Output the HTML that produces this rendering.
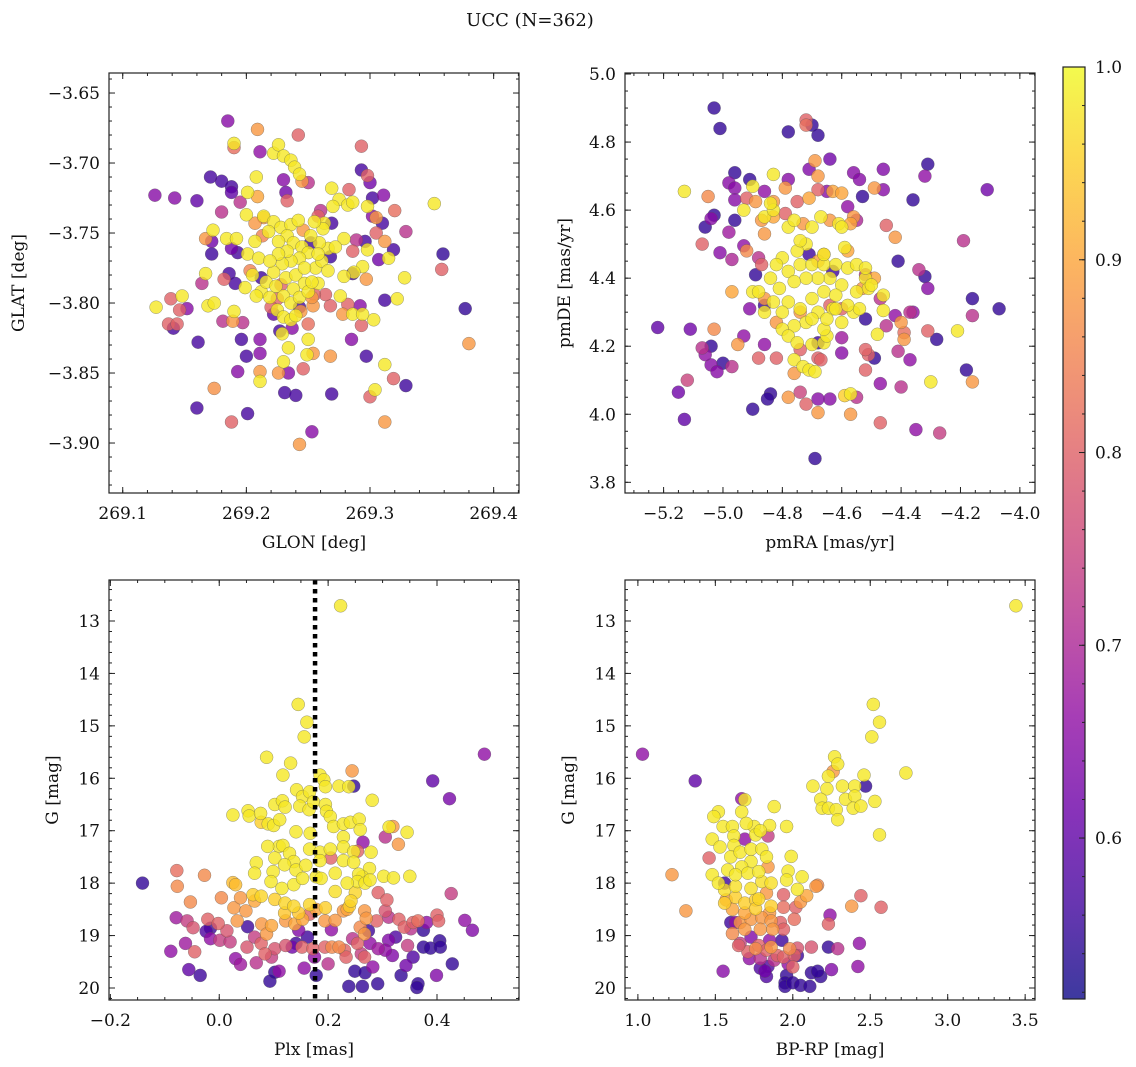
<!DOCTYPE html>
<html><head><meta charset="utf-8"><title>UCC (N=362)</title>
<style>
html,body{margin:0;padding:0;background:#fff;}
svg{display:block;font-family:"DejaVu Serif","Liberation Serif",serif;}
</style></head>
<body>
<svg id="fig" width="1136" height="1067" viewBox="0 0 1136 1067" xmlns="http://www.w3.org/2000/svg">
<rect x="0" y="0" width="1136" height="1067" fill="#fff"/>
<text x="530" y="26" font-size="18" text-anchor="middle" fill="#111">UCC (N=362)</text>
<g id="plots"></g>
</svg>
<script>
// ---- data: [x, y, membership probability] ----
const panel1Stars=[
[269.185,-3.670,.65],[269.209,-3.676,.88],[269.242,-3.680,.8],[269.190,-3.686,.98],[269.19,-3.689,.82],[269.211,-3.692,.66],[269.222,-3.693,.98],[269.226,-3.687,.98],[269.230,-3.695,.98],[269.236,-3.698,.98],[269.239,-3.703,.98],[269.293,-3.688,.8],
[269.171,-3.710,.57],[269.180,-3.713,.57],[269.188,-3.717,.57],[269.188,-3.721,.6],[269.208,-3.710,.98],[269.201,-3.721,.98],[269.209,-3.724,.9],[269.23,-3.712,.65],[269.243,-3.708,.98],[269.245,-3.713,.88],[269.25,-3.714,.72],[269.232,-3.721,.62],[269.233,-3.727,.8],
[269.293,-3.705,.57],[269.298,-3.709,.8],[269.30,-3.714,.62],[269.302,-3.725,.57],[269.311,-3.723,.65],[269.32,-3.734,.82],[269.329,-3.749,.72],[269.352,-3.729,.98],[269.359,-3.765,.55],[269.358,-3.776,.8],[269.377,-3.804,.55],[269.38,-3.829,.88],
[269.126,-3.723,.65],[269.142,-3.725,.65],[269.16,-3.727,.6],[269.18,-3.735,.72],[269.195,-3.728,.72],[269.2,-3.737,.98],[269.173,-3.748,.98],[269.167,-3.754,.88],[269.172,-3.756,.62],[269.172,-3.765,.56],[269.164,-3.786,.72],[269.167,-3.779,.98],[269.182,-3.783,.8],[269.184,-3.754,.98],[269.192,-3.754,.98],[269.188,-3.761,.62],[269.193,-3.764,.57],[269.186,-3.779,.57],[269.191,-3.786,.57],
[269.127,-3.803,.98],[269.139,-3.797,.8],[269.148,-3.795,.98],[269.152,-3.804,.65],[269.146,-3.805,.8],[269.137,-3.815,.8],[269.141,-3.818,.57],[269.144,-3.815,.8],[269.169,-3.802,.98],[269.174,-3.800,.98],[269.181,-3.813,.72],[269.189,-3.813,.88],[269.197,-3.814,.72],[269.19,-3.806,.98],
[269.161,-3.828,.57],[269.196,-3.826,.57],[269.2,-3.838,.57],[269.211,-3.826,.65],[269.211,-3.836,.65],[269.193,-3.849,.65],[269.211,-3.849,.88],[269.211,-3.856,.98],[269.174,-3.861,.87],[269.16,-3.875,.57],[269.201,-3.879,.57],[269.188,-3.885,.8],[269.226,-3.85,.88],[269.234,-3.85,.65],[269.231,-3.864,.57],[269.24,-3.866,.57],[269.243,-3.901,.88],[269.253,-3.892,.65],[269.246,-3.847,.8],[269.23,-3.842,.98],[269.234,-3.832,.98],[269.249,-3.837,.98],[269.254,-3.836,.88],[269.25,-3.826,.98],[269.25,-3.815,.82],[269.229,-3.822,.98],[269.227,-3.82,.57],[269.237,-3.818,.65],[269.243,-3.803,.57],[269.244,-3.806,.88],
[269.269,-3.865,.57],[269.268,-3.838,.88],[269.285,-3.826,.65],[269.297,-3.838,.57],[269.293,-3.816,.8],[269.30,-3.867,.8],[269.304,-3.862,.98],[269.312,-3.844,.98],[269.319,-3.854,.8],[269.329,-3.859,.56],[269.312,-3.885,.88],[269.303,-3.812,.98],[269.312,-3.798,.57],[269.322,-3.797,.98],[269.328,-3.782,.98],[269.315,-3.768,.98],[269.319,-3.762,.57],[269.312,-3.756,.88],[269.305,-3.75,.8],[269.307,-3.769,.62],[269.297,-3.783,.88],[269.298,-3.731,.98],[269.305,-3.739,.88],[269.31,-3.743,.57],[269.302,-3.738,.65],
[269.283,-3.719,.8],[269.269,-3.718,.98],[269.275,-3.726,.98],[269.282,-3.73,.98],[269.286,-3.728,.98],[269.27,-3.731,.98],[269.26,-3.734,.72],[269.263,-3.743,.98],[269.269,-3.743,.57],[269.289,-3.755,.72],[269.296,-3.756,.57],[269.298,-3.762,.98],[269.286,-3.763,.8],[269.294,-3.774,.98],[269.287,-3.778,.98],[269.286,-3.779,.57],[269.279,-3.754,.98],[269.279,-3.781,.98],[269.276,-3.795,.98],[269.278,-3.808,.88],[269.286,-3.808,.98],[269.292,-3.802,.65],[269.294,-3.808,.98],[269.282,-3.801,.8],[269.268,-3.802,.8],[269.264,-3.794,.8],[269.255,-3.794,.8],[269.254,-3.802,.88],[269.258,-3.786,.98],
[269.214,-3.739,.88],[269.207,-3.743,.88],[269.213,-3.752,.85],[269.225,-3.797,.8],[269.258,-3.738,.8],[269.203,-3.777,.85],[269.246,-3.748,.88],[269.228,-3.787,.8],[269.253,-3.796,.88],[269.220,-3.803,.8],[269.212,-3.782,.56],[269.252,-3.757,.56],[269.268,-3.767,.56],[269.222,-3.808,.6],
[269.214,-3.738,.98],[269.222,-3.742,.98],[269.228,-3.746,.98],[269.236,-3.744,.98],[269.242,-3.741,.98],[269.233,-3.752,.98],[269.226,-3.756,.98],[269.218,-3.749,.98],[269.238,-3.757,.98],[269.245,-3.760,.98],[269.250,-3.764,.98],[269.243,-3.768,.98],[269.236,-3.770,.98],[269.229,-3.772,.98],[269.232,-3.782,.98],[269.240,-3.780,.98],[269.247,-3.786,.98],[269.238,-3.790,.98],[269.230,-3.795,.98],[269.236,-3.800,.98],[269.243,-3.796,.98],[269.250,-3.792,.98],[269.256,-3.775,.98],[269.261,-3.770,.98],[269.266,-3.761,.98],[269.259,-3.757,.98],[269.262,-3.747,.98],[269.255,-3.742,.98],[269.252,-3.752,.98],[269.266,-3.777,.98],[269.272,-3.760,.98],[269.207,-3.756,.98],[269.201,-3.765,.98],[269.210,-3.768,.98],[269.205,-3.780,.98],[269.199,-3.789,.98],[269.212,-3.792,.98],[269.219,-3.796,.98],[269.208,-3.795,.98],[269.225,-3.805,.98],[269.230,-3.810,.98],[269.236,-3.812,.98],[269.240,-3.809,.98],[269.247,-3.775,.98],[269.233,-3.763,.98],[269.222,-3.778,.98],[269.216,-3.785,.98],[269.224,-3.788,.98],[269.226,-3.765,.98],[269.219,-3.770,.98],[269.258,-3.765,.98],[269.253,-3.785,.98]
];
const panel2Stars=[
[-5.03,4.90,.55],[-5.01,4.84,.55],[-4.78,4.83,.55],[-4.72,4.865,.8],[-4.72,4.85,.82],[-4.70,4.85,.55],[-4.68,4.82,.55],[-4.64,4.75,.62],[-4.69,4.745,.88],[-4.71,4.72,.64],[-4.68,4.70,.88],[-4.56,4.71,.65],[-4.54,4.69,.65],[-4.46,4.72,.64],[-4.49,4.665,.88],[-4.46,4.66,.65],[-4.31,4.735,.55],[-4.32,4.70,.66],[-4.11,4.66,.62],[-4.36,4.63,.55],[-4.53,4.64,.55],
[-5.13,4.655,.98],[-5.05,4.64,.86],[-4.96,4.71,.55],[-4.98,4.68,.65],[-4.96,4.665,.65],[-4.91,4.69,.55],[-4.9,4.67,.98],[-4.86,4.655,.66],[-4.83,4.705,.98],[-4.78,4.69,.65],[-4.79,4.665,.88],[-4.96,4.63,.65],[-4.92,4.635,.8],[-4.93,4.60,.98],[-5.03,4.585,.55],[-5.04,4.575,.65],[-5.06,4.55,.55],[-4.96,4.57,.55],[-4.98,4.535,.68],[-5.07,4.50,.8],[-5.01,4.475,.65],[-4.97,4.455,.7],[-4.93,4.495,.66],[-4.92,4.48,.86],[-4.88,4.46,.72],[-4.89,4.41,.55],
[-4.89,4.625,.88],[-4.83,4.625,.88],[-4.75,4.625,.8],[-4.71,4.635,.9],[-4.68,4.66,.8],[-4.63,4.655,.9],[-4.6,4.65,.9],[-4.65,4.655,.65],[-4.58,4.61,.66],[-4.56,4.58,.88],[-4.55,4.57,.7],[-4.45,4.555,.8],[-4.42,4.52,.88],[-4.19,4.51,.72],[-4.41,4.45,.55],[-4.34,4.425,.72],[-4.32,4.405,.55],[-4.31,4.37,.65],[-4.16,4.34,.55],[-4.07,4.31,.55],[-4.16,4.29,.72],[-4.21,4.245,.98],[-4.28,4.22,.55],[-4.31,4.245,.8],
[-4.36,4.30,.66],[-4.37,4.30,.72],[-4.42,4.29,.66],[-4.40,4.27,.88],[-4.39,4.24,.82],[-4.39,4.22,.88],[-4.41,4.185,.72],[-4.37,4.16,.66],[-4.49,4.165,.55],[-4.51,4.175,.8],[-4.52,4.19,.8],[-4.45,4.26,.72],[-4.48,4.235,.98],[-4.46,4.305,.98],[-4.52,4.28,.55],[-4.52,4.13,.8],[-4.47,4.09,.66],[-4.40,4.08,.72],[-4.30,4.095,.98],[-4.16,4.095,.88],[-4.18,4.13,.55],[-4.47,3.975,.8],[-4.35,3.955,.66],[-4.27,3.945,.74],
[-4.69,3.87,.55],[-4.68,4.005,.88],[-4.57,4.00,.88],[-4.55,4.05,.72],[-4.59,4.055,.95],[-4.57,4.06,.98],[-4.64,4.045,.65],[-4.68,4.045,.65],[-4.72,4.03,.8],[-4.74,4.065,.75],[-4.78,4.05,.88],[-4.84,4.06,.55],[-4.85,4.045,.55],[-4.90,4.015,.55],[-5.13,3.985,.6],[-5.15,4.065,.62],[-5.12,4.10,.75],[-5.22,4.255,.6],[-5.11,4.25,.62],[-5.03,4.25,.86],[-5.07,4.195,.72],[-5.04,4.20,.55],[-5.06,4.175,.66],[-5.0,4.15,.55],[-4.97,4.14,.72],[-5.04,4.145,.65],[-5.02,4.125,.65],
[-4.95,4.205,.88],[-4.93,4.23,.66],[-4.86,4.205,.66],[-4.88,4.165,.8],[-4.82,4.165,.8],[-4.76,4.12,.88],[-4.76,4.16,.98],[-4.73,4.14,.98],[-4.71,4.13,.98],[-4.69,4.125,.98],[-4.68,4.165,.8],[-4.74,4.19,.8],[-4.70,4.205,.98],[-4.66,4.21,.98],[-4.65,4.23,.98],[-4.6,4.225,.68],[-4.6,4.18,.65],
[-4.87,4.57,.88],[-4.83,4.58,.9],[-4.86,4.53,.88],[-4.79,4.59,.8],[-4.73,4.56,.88],[-4.66,4.47,.9],[-4.64,4.57,.88],[-4.57,4.56,.9],[-4.58,4.48,.9],[-4.53,4.37,.88],[-4.49,4.40,.9],[-4.60,4.31,.8],[-4.64,4.32,.8],[-4.68,4.45,.9],[-4.74,4.30,.88],[-4.82,4.27,.88],[-4.86,4.34,.88],[-4.87,4.44,.8],[-4.97,4.36,.9],[-4.91,4.31,.65],[-4.86,4.32,.56],[-4.68,4.21,.56],[-4.63,4.42,.56],[-4.71,4.47,.56],[-4.47,4.34,.72],[-4.52,4.41,.72],[-4.67,4.16,.8],
[-4.78,4.55,.98],[-4.76,4.57,.98],[-4.70,4.55,.98],[-4.67,4.58,.98],[-4.72,4.50,.98],[-4.75,4.48,.98],[-4.80,4.46,.98],[-4.82,4.44,.98],[-4.84,4.40,.98],[-4.81,4.37,.98],[-4.78,4.42,.98],[-4.74,4.44,.98],[-4.70,4.44,.98],[-4.66,4.44,.98],[-4.62,4.44,.98],[-4.58,4.43,.98],[-4.55,4.44,.98],[-4.52,4.40,.98],[-4.51,4.37,.98],[-4.46,4.35,.98],[-4.55,4.36,.98],[-4.60,4.38,.98],[-4.64,4.40,.98],[-4.68,4.40,.98],[-4.72,4.40,.98],[-4.76,4.39,.98],[-4.78,4.33,.98],[-4.74,4.31,.98],[-4.70,4.34,.98],[-4.66,4.36,.98],[-4.62,4.35,.98],[-4.63,4.31,.98],[-4.68,4.30,.98],[-4.72,4.27,.98],[-4.76,4.26,.98],[-4.80,4.30,.98],[-4.83,4.33,.98],[-4.86,4.30,.98],[-4.80,4.25,.98],[-4.78,4.23,.98],[-4.75,4.21,.98],[-4.66,4.25,.98],[-4.65,4.28,.98],[-4.60,4.27,.98],[-4.56,4.30,.98],[-4.54,4.31,.98],[-4.50,4.38,.98],[-4.52,4.43,.98],[-4.61,4.56,.98],[-4.60,4.55,.98],[-4.59,4.49,.98],[-4.70,4.28,.98],[-4.90,4.36,.98],[-4.88,4.36,.98],[-4.74,4.51,.98],[-4.62,4.31,.98],[-4.58,4.32,.98],[-4.66,4.47,.98],[-4.86,4.58,.98],[-4.83,4.60,.98],[-4.84,4.62,.98]
];
const panel3Stars=[
[.223,12.71,.98],[.145,14.59,.98],[.161,14.93,.98],[.156,15.21,.98],[.487,15.54,.66],[.087,15.6,.98],[.131,15.71,.98],[.117,15.94,.98],[.244,15.86,.88],[.247,16.15,.55],[.392,16.05,.6],[.423,16.39,.63],
[.185,15.94,.98],[.192,16.03,.98],[.195,16.16,.98],[.220,16.15,.98],[.238,16.16,.98],[.281,16.42,.98],[.025,16.70,.98],[.053,16.62,.98],[.055,16.72,.98],[.076,16.67,.98],[.077,16.84,.95],[.090,16.87,.98],[.1,16.9,.98],
[.102,16.5,.98],[.116,16.43,.98],[.121,16.55,.98],[.142,16.22,.98],[.153,16.35,.98],[.148,16.53,.98],[.165,16.6,.98],[.166,16.26,.98],[.173,16.45,.98],[.195,16.5,.98],[.197,16.63,.98],[.204,16.73,.98],[.111,16.79,.98],[.141,17.02,.98],[.167,17.05,.98],
[.21,16.92,.98],[.228,16.87,.98],[.241,16.84,.98],[.257,16.78,.98],[.259,16.98,.98],[.228,17.12,.98],[.305,17.12,.72],[.312,16.93,.98],[.319,16.92,.88],[.345,17.03,.98],[.329,17.26,.88],[.264,17.22,.66],[.254,17.39,.8],
[.110,17.3,.98],[.117,17.28,.98],[.089,17.3,.98],[.129,17.43,.98],[.137,17.59,.98],[.068,17.61,.98],[.065,17.81,.98],[.102,17.52,.98],[.099,17.78,.98],[.120,17.65,.98],[.141,17.75,.98],[.159,17.66,.98],
[.166,17.35,.98],[.185,17.41,.98],[.185,17.57,.98],[.204,17.35,.98],[.205,17.52,.8],[.213,17.81,.98],[.228,17.57,.98],[.228,17.31,.98],[.247,17.4,.98],[.247,17.6,.98],[.279,17.41,.98],[.276,17.72,.98],[.263,17.88,.98],[.256,17.83,.98],
[.302,17.87,.98],[.320,17.9,.98],[.350,17.87,.98],[.254,17.97,.98],[.268,18.0,.98],[.277,17.94,.98],[.235,18.0,.98],[.25,18.18,.96],[.095,17.97,.98],[.115,18.1,.98],[.137,18.03,.98],[.153,17.91,.98],[.178,17.88,.98],[.187,17.91,.98],[.213,18.16,.97],
[.062,18.22,.95],[.077,18.25,.96],[.102,18.31,.95],[.121,18.38,.96],[.120,18.57,.94],[.137,18.44,.96],[.146,18.57,.94],[.166,18.41,.96],[.195,18.47,.95],[.239,18.44,.95],[.242,18.34,.96],
[-.078,17.76,.82],[-.077,18.06,.86],[-.027,17.85,.86],[-.053,18.36,.86],[-.141,18.0,.55],[.025,17.99,.93],[.03,18.03,.93],[.004,18.28,.86],
[.027,18.47,.88],[.039,18.28,.88],[.049,18.53,.88],[.033,18.72,.88],[.065,18.34,.9],[.078,18.78,.88],[.096,18.81,.9],[.087,18.97,.88],[.122,18.72,.88],[.139,18.78,.9],[.153,18.69,.9],
[.166,18.59,.8],[.178,18.5,.9],[.194,18.72,.88],[.213,18.71,.88],[.228,18.53,.88],[.235,18.5,.9],[.267,18.53,.88],[.27,18.67,.88],[.259,18.84,.86],[.267,18.97,.88],
[.292,18.18,.8],[.308,18.32,.8],[.305,18.53,.78],[.311,18.65,.72],[.426,18.2,.74],[.289,18.72,.8],[.33,18.69,.8],[.34,18.84,.8],[.356,18.75,.8],[.365,18.72,.82],[.381,18.75,.66],[.4,18.61,.8],[.403,18.72,.8],[.451,18.71,.66],[.465,18.9,.64],
[-.079,18.66,.68],[-.059,18.72,.74],[-.048,18.85,.78],[-.021,18.69,.8],[-.002,18.77,.8],[.014,18.91,.78],[-.024,18.92,.58],[-.016,18.86,.56],[-.016,19.06,.66],
[-.089,19.3,.66],[-.062,19.15,.68],[-.045,19.31,.8],[-.056,19.65,.6],[-.035,19.76,.56],[.001,19.09,.74],[.02,19.12,.74],[.03,19.44,.66],[.039,19.55,.68],[.051,19.22,.78],
[.052,18.83,.56],[.068,19.52,.72],[.065,19.03,.74],[.077,19.15,.8],[.084,19.35,.8],[.096,19.41,.74],[.102,19.25,.78],[.093,19.87,.55],[.102,19.7,.55],[.11,19.68,.66],
[.122,19.19,.78],[.141,19.15,.56],[.134,19.22,.62],[.146,18.9,.64],[.156,19.62,.66],[.152,19.22,.8],[.162,19.03,.56],[.172,19.25,.8],[.175,19.41,.66],[.178,19.76,.55],
[.194,19.22,.8],[.2,19.54,.72],[.206,18.89,.66],[.207,19.22,.86],[.22,19.22,.86],[.23,19.28,.8],[.233,19.41,.8],[.245,19.06,.72],[.254,19.15,.8],[.261,19.35,.74],[.267,19.41,.8],[.277,19.15,.66],[.274,18.91,.56],
[.238,19.97,.55],[.263,19.97,.55],[.291,19.92,.55],[.249,19.68,.55],[.268,19.71,.55],[.282,19.6,.66],[.292,19.25,.68],[.305,19.28,.66],[.311,19.09,.64],[.318,19.38,.64],[.324,19.03,.58],
[.334,19.76,.55],[.343,19.57,.62],[.356,19.41,.58],[.346,19.19,.74],[.352,18.87,.72],[.365,19.92,.55],[.363,19.99,.55],[.375,19.22,.55],[.375,18.9,.55],[.388,19.24,.55],[.399,19.76,.64],[.405,19.1,.55],[.406,19.22,.55],[.428,19.54,.55]
];
const panel4Stars=[
[3.44,12.71,.98],[2.52,14.59,.98],[2.56,14.93,.98],[2.51,15.21,.98],[1.03,15.54,.66],[1.37,16.05,.6],[2.27,15.59,.98],[2.29,15.73,.98],[2.23,15.96,.98],[2.26,15.87,.88],[2.73,15.9,.98],[2.46,15.94,.98],[2.47,16.15,.55],
[2.13,16.15,.98],[2.22,16.2,.98],[2.18,16.4,.98],[2.19,16.57,.98],[2.23,16.57,.98],[2.32,16.15,.98],[2.34,16.4,.98],[2.28,16.6,.98],[2.29,16.79,.98],[2.40,16.15,.98],[2.40,16.34,.98],[2.39,16.57,.98],[2.44,16.53,.98],[2.53,16.44,.98],[2.56,17.08,.98],
[1.67,16.39,.66],[1.69,16.41,.98],[1.67,16.64,.98],[1.52,16.64,.98],[1.49,16.73,.98],[1.88,16.54,.98],[1.96,16.92,.98],[1.85,16.9,.98],[1.84,17.1,.74],[1.69,17.16,.66],
[1.55,16.92,.98],[1.61,16.92,.98],[1.62,17.1,.98],[1.75,16.92,.98],[1.76,17.08,.98],[1.7,16.86,.98],[1.79,17.0,.98],
[1.48,17.16,.98],[1.53,17.31,.98],[1.62,17.28,.98],[1.6,17.5,.98],[1.66,17.41,.98],[1.73,17.35,.98],[1.8,17.35,.98],[1.83,17.5,.98],[1.73,17.59,.98],[1.67,17.69,.98],[1.58,17.75,.98],[1.63,17.84,.98],[1.71,17.81,.98],[1.78,17.78,.98],[1.84,17.69,.88],
[1.99,17.49,.98],[1.97,17.77,.98],[1.96,17.94,.98],[2.06,17.88,.98],[2.03,18.12,.98],[2.09,18.24,.9],[1.46,17.52,.8],[1.22,17.84,.88],[1.31,18.53,.88],
[1.48,17.84,.98],[1.52,18.0,.98],[1.56,18.0,.56],[1.56,18.13,.97],[1.63,18.06,.97],[1.73,18.1,.97],[1.8,17.97,.97],[1.86,18.0,.97],[1.83,18.19,.88],
[1.57,18.32,.88],[1.63,18.27,.95],[1.69,18.38,.95],[1.76,18.32,.95],[1.78,18.3,.96],[1.56,18.38,.95],[1.61,18.5,.9],[1.69,18.57,.9],[1.76,18.49,.95],[1.86,18.44,.95],[1.85,18.57,.88],
[1.94,18.22,.8],[1.94,18.46,.82],[2.02,18.46,.8],[2.01,18.69,.82],[2.05,18.36,.88],[2.15,18.06,.88],[2.16,18.04,.86],
[2.24,18.61,.66],[2.23,18.78,.8],[2.38,18.44,.88],[2.44,18.24,.8],[2.57,18.46,.8],
[1.6,18.75,.56],[1.63,18.75,.66],[1.66,18.75,.88],[1.73,18.69,.88],[1.80,18.66,.88],[1.86,18.72,.88],[1.87,18.88,.88],[1.79,18.88,.88],[1.69,18.88,.88],[1.61,18.96,.86],
[1.66,19.15,.74],[1.73,19.03,.64],[1.78,19.19,.8],[1.85,19.09,.66],[1.93,19.09,.56],[1.98,19.25,.86],[1.71,19.31,.8],[1.76,19.25,.86],[1.83,19.28,.8],[1.86,19.22,.88],[1.9,19.38,.8],[1.94,19.41,.8],[2.01,19.38,.8],[2.03,19.24,.78],[2.12,19.22,.78],
[1.65,19.19,.8],[1.72,19.44,.66],[1.79,19.44,.72],[1.88,19.47,.72],[1.97,19.54,.66],[2.0,19.6,.8],[2.03,19.38,.56],
[1.55,19.68,.65],[1.79,19.62,.58],[1.82,19.68,.62],[1.83,19.78,.58],[1.84,19.59,.58],[1.96,19.76,.55],[1.95,19.9,.55],[1.95,19.97,.55],[2.0,19.9,.55],[2.05,19.95,.55],[2.11,19.97,.55],[2.12,19.71,.55],[2.18,19.78,.55],[2.16,19.68,.55],
[2.23,19.22,.55],[2.29,19.25,.72],[2.25,19.65,.64],[2.43,19.15,.66],[2.42,19.59,.66],[1.92,18.75,.8],[1.94,18.88,.8]
];
// ---- ticks ----
const p1XTicks=[269.1,269.2,269.3,269.4];
const p1XLabels=["269.1","269.2","269.3","269.4"];
const p1YTicks=[-3.65,-3.70,-3.75,-3.80,-3.85,-3.90];
const p1YLabels=["−3.65","−3.70","−3.75","−3.80","−3.85","−3.90"];
const p2XTicks=[-5.2,-5.0,-4.8,-4.6,-4.4,-4.2,-4.0];
const p2XLabels=["−5.2","−5.0","−4.8","−4.6","−4.4","−4.2","−4.0"];
const p2YTicks=[3.8,4.0,4.2,4.4,4.6,4.8,5.0];
const p2YLabels=["3.8","4.0","4.2","4.4","4.6","4.8","5.0"];
const p3XTicks=[-0.2,0.0,0.2,0.4];
const p3XLabels=["−0.2","0.0","0.2","0.4"];
const magTicks=[13,14,15,16,17,18,19,20];
const magLabels=["13","14","15","16","17","18","19","20"];
const p4XTicks=[1.0,1.5,2.0,2.5,3.0,3.5];
const p4XLabels=["1.0","1.5","2.0","2.5","3.0","3.5"];
const cbTicks=[0.6,0.7,0.8,0.9,1.0];
const cbLabels=["0.6","0.7","0.8","0.9","1.0"];
const plxLine=[0.176];
const probRange=[0.5165,1.0];

const NS="http://www.w3.org/2000/svg";
const root=document.getElementById('plots');
const FS=17;
function mk(tag,attrs,parent){const e=document.createElementNS(NS,tag);for(const k in attrs)e.setAttribute(k,attrs[k]);(parent||root).appendChild(e);return e;}
const plasma=[[13,8,135],[65,4,157],[106,0,168],[143,13,164],[177,42,144],[204,71,120],[225,100,98],[242,132,75],[252,166,54],[252,206,37],[240,249,33]];
function cmap(p){let t=(p-probRange[0])/(probRange[1]-probRange[0]);t=Math.max(0,Math.min(1,t))*10;const i=Math.min(9,Math.floor(t)),f=t-i;const a=plasma[i],b=plasma[i+1];return 'rgb('+a.map((v,k)=>Math.round(v+(b[k]-v)*f)).join(',')+')';}

function panel(cfg){
  const g=mk('g',{});
  
  
  const sx=v=>cfg.x0+(v-cfg.xd[0])/(cfg.xd[1]-cfg.xd[0])*cfg.w;
  const sy=v=>cfg.y0+(v-cfg.yd[0])/(cfg.yd[1]-cfg.yd[0])*cfg.h;
  const pts=mk('g',{},g);
  
  
  const sorted=cfg.data.slice().sort((a,b)=>a[2]-b[2]);
  sorted.forEach(d=>{
    const c=mk('circle',{cx:sx(d[0]).toFixed(1),cy:sy(d[1]).toFixed(1),r:6.5,fill:cmap(d[2]),'fill-opacity':0.8,stroke:'#555','stroke-opacity':0.6,'stroke-width':0.5},pts);
    
    
  });
  if(cfg.vline){cfg.vline.forEach(v=>{const l=mk('line',{x1:sx(v),x2:sx(v),y1:cfg.y0,y2:cfg.y0+cfg.h,stroke:'#000','stroke-width':4.5,'stroke-dasharray':'4.5 4.5'},g);
    
    });}
  const fr=mk('rect',{x:cfg.x0,y:cfg.y0,width:cfg.w,height:cfg.h,fill:'none',stroke:'#222','stroke-width':1.2},g);
  
  
  const tk=mk('g',{stroke:'#222','stroke-width':1},g);
  
  
  const lo=Math.min(...cfg.xd),hi=Math.max(...cfg.xd);
  for(let k=Math.ceil(lo/cfg.xm-1e-6);k*cfg.xm<=hi+1e-9;k++){const x=sx(k*cfg.xm);mk('line',{x1:x,x2:x,y1:cfg.y0+cfg.h,y2:cfg.y0+cfg.h-3},tk);mk('line',{x1:x,x2:x,y1:cfg.y0,y2:cfg.y0+3},tk);}
  const ylo=Math.min(...cfg.yd),yhi=Math.max(...cfg.yd);
  for(let k=Math.ceil(ylo/cfg.ym-1e-6);k*cfg.ym<=yhi+1e-9;k++){const y=sy(k*cfg.ym);mk('line',{x1:cfg.x0,x2:cfg.x0+3,y1:y,y2:y},tk);mk('line',{x1:cfg.x0+cfg.w,x2:cfg.x0+cfg.w-3,y1:y,y2:y},tk);}
  cfg.xt.forEach((v,i)=>{const x=sx(v);mk('line',{x1:x,x2:x,y1:cfg.y0+cfg.h,y2:cfg.y0+cfg.h-6},tk);mk('line',{x1:x,x2:x,y1:cfg.y0,y2:cfg.y0+6},tk);
    const t=mk('text',{x:x,y:cfg.y0+cfg.h+26,'font-size':FS,'text-anchor':'middle',fill:'#111'},g);t.textContent=cfg.xl[i];
    
    });
  cfg.yt.forEach((v,i)=>{const y=sy(v);mk('line',{x1:cfg.x0,x2:cfg.x0+6,y1:y,y2:y},tk);mk('line',{x1:cfg.x0+cfg.w,x2:cfg.x0+cfg.w-6,y1:y,y2:y},tk);
    const t=mk('text',{x:cfg.x0-9,y:y+6,'font-size':FS,'text-anchor':'end',fill:'#111'},g);t.textContent=cfg.yl[i];
    
    });
  const xt=mk('text',{x:cfg.x0+cfg.w/2,y:cfg.y0+cfg.h+55,'font-size':FS,'text-anchor':'middle',fill:'#111'},g);xt.textContent=cfg.xlabel;
  
  
  const yx=cfg.ylx, yy=cfg.y0+cfg.h/2;
  const yt=mk('text',{x:yx,y:yy,'font-size':FS,'text-anchor':'middle',fill:'#111',transform:'rotate(-90 '+yx+' '+yy+')'},g);yt.textContent=cfg.ylabel;
  
  
}
panel({name:'glon-glat-panel',data:panel1Stars,x0:109,y0:73,w:410,h:420,xd:[269.0889,269.4205],yd:[-3.6357,-3.9357],xt:p1XTicks,xl:p1XLabels,yt:p1YTicks,yl:p1YLabels,xm:0.02,ym:0.01,xlabel:'GLON [deg]',ylabel:'GLAT [deg]',ylx:24});
panel({name:'pm-panel',data:panel2Stars,x0:625,y0:73,w:410,h:420,xd:[-5.330,-3.949],yd:[5.003,3.7686],xt:p2XTicks,xl:p2XLabels,yt:p2YTicks,yl:p2YLabels,xm:0.05,ym:0.05,xlabel:'pmRA [mas/yr]',ylabel:'pmDE [mas/yr]',ylx:570});
panel({name:'plx-g-panel',data:panel3Stars,x0:109,y0:580,w:410,h:420,xd:[-0.2025,0.5506],yd:[12.218,20.229],xt:p3XTicks,xl:p3XLabels,yt:magTicks,yl:magLabels,xm:0.05,ym:0.2,xlabel:'Plx [mas]',ylabel:'G [mag]',ylx:58,vline:plxLine});
panel({name:'cmd-panel',data:panel4Stars,x0:625,y0:580,w:410,h:420,xd:[0.9168,3.5636],yd:[12.218,20.229],xt:p4XTicks,xl:p4XLabels,yt:magTicks,yl:magLabels,xm:0.1,ym:0.2,xlabel:'BP-RP [mag]',ylabel:'G [mag]',ylx:574});

// colorbar
(function(){
  const cx=1063,cy=67,cw=22,ch=932;
  const g=mk('g',{});
  
  
  const defs=mk('defs',{},g);
  const lg=mk('linearGradient',{id:'cbgrad',x1:0,y1:1,x2:0,y2:0},defs);
  for(let i=0;i<=20;i++){const p=probRange[0]+(probRange[1]-probRange[0])*i/20;mk('stop',{offset:(i/20),'stop-color':cmap(p),'stop-opacity':0.8},lg);}
  const r=mk('rect',{x:cx,y:cy,width:cw,height:ch,fill:'url(#cbgrad)',stroke:'#222','stroke-width':1.2},g);
  
  
  const sy=v=>cy+ch-(v-probRange[0])/(probRange[1]-probRange[0])*ch;
  for(let k=Math.ceil(probRange[0]/0.02);k*0.02<=probRange[1]+1e-9;k++){const y=sy(k*0.02);mk('line',{x1:cx+cw,x2:cx+cw-3,y1:y,y2:y,stroke:'#222'},g);}
  cbTicks.forEach((v,i)=>{const y=sy(v);mk('line',{x1:cx+cw,x2:cx+cw-6,y1:y,y2:y,stroke:'#222'},g);
    const t=mk('text',{x:cx+cw+10,y:y+6,'font-size':FS,fill:'#111'},g);t.textContent=cbLabels[i];
    
    });
})();
</script>
</body></html>
